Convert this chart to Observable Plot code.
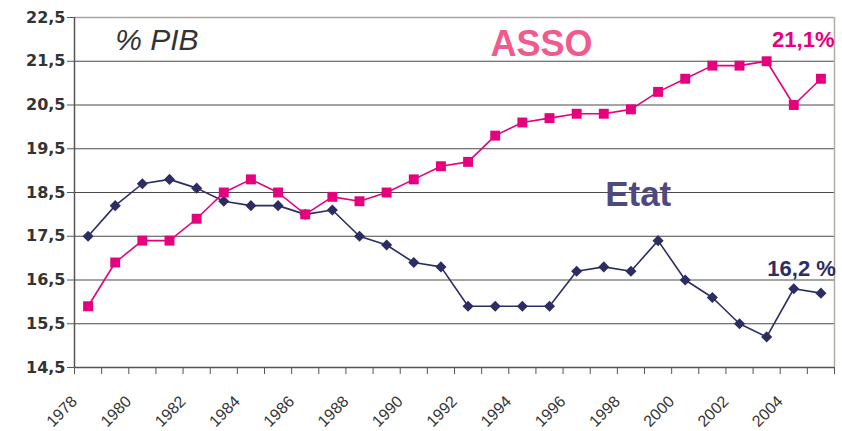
<!DOCTYPE html>
<html>
<head>
<meta charset="utf-8">
<script src="https://cdn.jsdelivr.net/npm/d3@7"></script>
<script src="https://cdn.jsdelivr.net/npm/@observablehq/plot@0.6"></script>
<style>
  html, body { margin: 0; padding: 0; background: #fff; }
  #chart svg { display: block; }
</style>
</head>
<body>
<div id="chart"></div>
<script>
// ---- data ----
const years = [1978, 1979, 1980, 1981, 1982, 1983, 1984, 1985, 1986, 1987, 1988, 1989, 1990, 1991,
               1992, 1993, 1994, 1995, 1996, 1997, 1998, 1999, 2000, 2001, 2002, 2003, 2004, 2005];
const asso = [15.9, 16.9, 17.4, 17.4, 17.9, 18.5, 18.8, 18.5, 18.0, 18.4, 18.3, 18.5, 18.8, 19.1,
              19.2, 19.8, 20.1, 20.2, 20.3, 20.3, 20.4, 20.8, 21.1, 21.4, 21.4, 21.5, 20.5, 21.1];
const etat = [17.5, 18.2, 18.7, 18.8, 18.6, 18.3, 18.2, 18.2, 18.0, 18.1, 17.5, 17.3, 16.9, 16.8,
              15.9, 15.9, 15.9, 15.9, 16.7, 16.8, 16.7, 17.4, 16.5, 16.1, 15.5, 15.2, 16.3, 16.2];
const yTicks = [14.5, 15.5, 16.5, 17.5, 18.5, 19.5, 20.5, 21.5, 22.5];
const xLabelYears = [1978, 1980, 1982, 1984, 1986, 1988, 1990, 1992, 1994, 1996, 1998, 2000, 2002, 2004];
const xBounds = [1977.5, 1978.5, 1979.5, 1980.5, 1981.5, 1982.5, 1983.5, 1984.5, 1985.5, 1986.5,
                 1987.5, 1988.5, 1989.5, 1990.5, 1991.5, 1992.5, 1993.5, 1994.5, 1995.5, 1996.5,
                 1997.5, 1998.5, 1999.5, 2000.5, 2001.5, 2002.5, 2003.5, 2004.5, 2005.5];
const labelPIB = [{text: "% PIB", year: 1979.0, value: 21.97}];
const labelAsso = [{text: "ASSO", year: 1992.83, value: 21.89}];
const labelEtat = [{text: "Etat", year: 1997.05, value: 18.45}];
const labelAssoEnd = [{text: "21,1%", year: 2005.5, value: 21.99}];
const labelEtatEnd = [{text: "16,2 %", year: 2005.55, value: 16.75}];

const assoRows = years.map((y, i) => ({year: y, value: asso[i]}));
const etatRows = years.map((y, i) => ({year: y, value: etat[i]}));
const fmt = d => d.toFixed(1).replace(".", ",");

const xDomain = [xBounds[0], xBounds[xBounds.length - 1]];
const yDomain = [yTicks[0], yTicks[yTicks.length - 1]];

const pink = "#e6007e";
const navy = "#2b2d63";

const chart = Plot.plot({
  width: 842,
  height: 431,
  marginLeft: 74,
  marginRight: 8,
  marginTop: 17,
  marginBottom: 64,
  style: {fontFamily: "Liberation Sans, Arial, sans-serif", background: "#fff"},
  x: {domain: xDomain, axis: null},
  y: {domain: yDomain, axis: null},
  marks: [
    Plot.ruleY(yTicks.slice(1, -1), {stroke: "#4a4a4a", strokeWidth: 1}),
    Plot.ruleY([yDomain[1]], {stroke: "#a8a4a0", strokeWidth: 1.5}),
    Plot.ruleX([xDomain[1]], {stroke: "#b3aca6", strokeWidth: 1.5}),
    Plot.ruleX([xDomain[0]], {stroke: "#555", strokeWidth: 1.5}),
    Plot.ruleY([yDomain[0]], {stroke: "#555", strokeWidth: 1.5}),
    Plot.axisY({ticks: yTicks, label: null, tickSize: 7, tickPadding: 2, tickFormat: fmt, stroke: "#555",
      fontSize: 16, fontWeight: "bold", fontFamily: "DejaVu Sans, sans-serif", fill: "#333"}),
    Plot.axisX({ticks: xBounds, label: null, tickSize: 7, tickFormat: () => "", stroke: "#555"}),
    Plot.text(xLabelYears, {x: d => d, frameAnchor: "bottom", dy: 35, dx: -10, rotate: -45,
      textAnchor: "end", lineAnchor: "bottom", fontSize: 16, fill: "#333",
      fontFamily: "Liberation Sans, Arial, sans-serif", text: d => String(d)}),
    Plot.line(etatRows, {x: "year", y: "value", stroke: navy, strokeWidth: 1.6}),
    Plot.dot(etatRows, {x: "year", y: "value", symbol: "diamond2", r: 5, fill: navy, stroke: null}),
    Plot.line(assoRows, {x: "year", y: "value", stroke: pink, strokeWidth: 1.6}),
    Plot.dot(assoRows, {x: "year", y: "value", symbol: "square", r: 5.6, fill: pink, stroke: null}),
    Plot.text(labelPIB, {x: "year", y: "value", text: "text", textAnchor: "start", fontSize: 30,
      fontStyle: "italic", fill: "#333"}),
    Plot.text(labelAsso, {x: "year", y: "value", text: "text", textAnchor: "start", fontSize: 36,
      fontWeight: "bold", fill: "#ef5b8c"}),
    Plot.text(labelEtat, {x: "year", y: "value", text: "text", textAnchor: "start", fontSize: 35,
      fontWeight: "bold", fill: "#4f4a7e"}),
    Plot.text(labelAssoEnd, {x: "year", y: "value", text: "text", textAnchor: "end", fontSize: 22,
      fontWeight: "bold", fill: pink}),
    Plot.text(labelEtatEnd, {x: "year", y: "value", text: "text", textAnchor: "end", fontSize: 22,
      fontWeight: "bold", fill: navy})
  ]
});
document.getElementById("chart").appendChild(chart);
</script>
</body>
</html>
